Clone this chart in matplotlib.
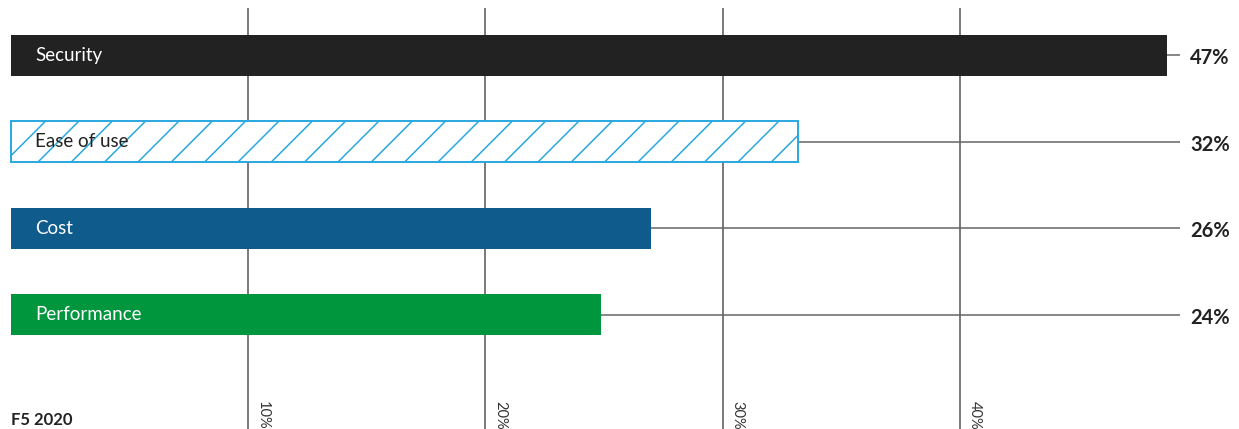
import matplotlib
matplotlib.use("Agg")
import matplotlib.pyplot as plt

plt.rcParams['font.family'] = ['Lato', 'DejaVu Sans']

categories = ["Security", "Ease of use", "Cost", "Performance"]
values = [47, 32, 26, 24]
value_labels = ["47%", "32%", "26%", "24%"]
grid_ticks = [10, 20, 30, 40]
grid_labels = ["10%", "20%", "30%", "40%"]
source = "F5 2020"

W, H = 1239, 429
fig = plt.figure(figsize=(W / 100, H / 100), dpi=100)

# base axes: gridlines scale
gax = fig.add_axes([0, 0, 1, 1])
gax.set_xlim(-10 / 23.75, (W - 10) / 23.75)
gax.axis('off')

# bar axes
ax = gax.twiny()
ax.set_xlim(-11 / 24.6, (W - 11) / 24.6)
ax.set_ylim((H - 55.5) / 86.4, -55.5 / 86.4)
ax.axis('off')
ax.patch.set_visible(False)

ytop = (8 - 55.5) / 86.4
ybot = (H - 55.5) / 86.4
gax.vlines(grid_ticks, ytop, ybot, color='#555555', lw=1.1, zorder=1)
for t, lab in zip(grid_ticks, grid_labels):
    gax.text(t + 8 / 23.75, (401 - 55.5) / 86.4, lab, rotation=270,
             ha='left', va='top', fontsize=10.5, color='#333333')

colors = ['#222222', 'white', '#0e5b8c', '#00963d']
edges = ['#222222', '#29a8e0', '#0e5b8c', '#00963d']
hatches = [None, '/', None, None]
txtcol = ['white', '#222222', 'white', 'white']
line_end = (1180 - 11) / 24.6
plt.rcParams['hatch.linewidth'] = 1.1

for i, (c, v) in enumerate(zip(categories, values)):
    ax.hlines(i, v, line_end, color='#666666', lw=1.1, zorder=1)
    ax.barh(i, v, height=41 / 86.4, color=colors[i], edgecolor=edges[i],
            hatch=hatches[i], linewidth=1.4 if hatches[i] else 0, zorder=3)
    ax.text(24 / 24.6, i, c, ha='left', va='center', fontsize=13.5,
            color=txtcol[i], zorder=5)
    ax.text((1190 - 11) / 24.6, i + 3 / 86.4, value_labels[i], ha='left', va='center',
            fontsize=14.5, fontweight='bold', color='#222222', zorder=5)

fig.text(11 / W, 1 - 425 / H, source, ha='left', va='baseline', fontsize=12,
         fontweight='bold', color='#222222')

fig.savefig('out.png', dpi=100)
